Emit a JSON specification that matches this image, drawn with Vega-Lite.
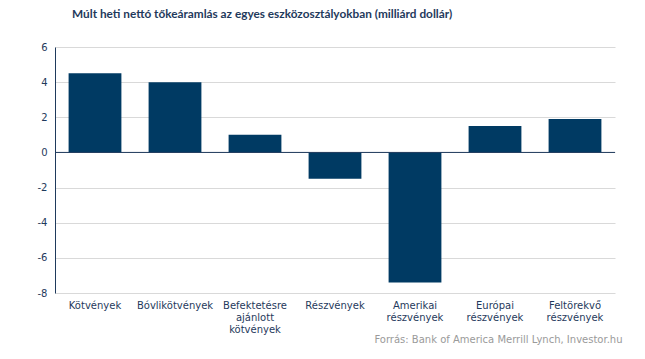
{
  "$schema": "https://vega.github.io/schema/vega-lite/v6.json",
  "width": 560,
  "height": 246,
  "autosize": {"type": "none"},
  "padding": {"left": 55, "top": 47, "right": 30, "bottom": 66},
  "background": "white",
  "title": {
    "text": "Múlt heti nettó tőkeáramlás az egyes eszközosztályokban (milliárd dollár)",
    "anchor": "start",
    "dx": 35,
    "offset": 21,
    "font": "Lato",
    "fontSize": 11.8,
    "fontWeight": "bold",
    "color": "#1F3A5C"
  },
  "data": {
    "values": [
      {"kategoria": "Kötvények", "ertek": 4.5},
      {"kategoria": "Bóvlikötvények", "ertek": 4.0},
      {"kategoria": "Befektetésre|ajánlott|kötvények", "ertek": 1.0},
      {"kategoria": "Részvények", "ertek": -1.5},
      {"kategoria": "Amerikai|részvények", "ertek": -7.4},
      {"kategoria": "Európai|részvények", "ertek": 1.5},
      {"kategoria": "Feltörekvő|részvények", "ertek": 1.9}
    ]
  },
  "encoding": {
    "y": {
      "field": "ertek",
      "type": "quantitative",
      "scale": {"domain": [-8, 6], "nice": false},
      "axis": {
        "tickCount": 7,
        "labelExpr": "datum.value < 0 ? '-' + abs(datum.value) : '' + datum.value",
        "labelOverlap": false,
        "labelFlush": false,
        "labelBound": false,
        "title": null,
        "labelFont": "DejaVu Sans",
        "labelFontSize": 10,
        "labelColor": "#1F3A5C",
        "labelPadding": 8,
        "ticks": false,
        "domainColor": "#1F3A5C",
        "domainWidth": 1,
        "gridColor": "#D9D9D9",
        "gridWidth": 1
      }
    }
  },
  "layer": [
    {
      "mark": {"type": "bar", "color": "#003A63"},
      "encoding": {
        "x": {
          "field": "kategoria",
          "type": "nominal",
          "sort": null,
          "scale": {"paddingInner": 0.34, "paddingOuter": 0.17},
          "axis": {
            "labelExpr": "split(datum.label, '|')",
            "labelAngle": 0,
            "labelFont": "DejaVu Sans",
            "labelFontSize": 10,
            "labelColor": "#1F3A5C",
            "labelLineHeight": 12,
            "labelPadding": 7,
            "domain": false,
            "ticks": false,
            "title": "Forrás: Bank of America Merrill Lynch, Investor.hu",
            "titleAnchor": "end",
            "titleX": 567,
            "titleFont": "DejaVu Sans",
            "titleFontSize": 10,
            "titleFontWeight": "normal",
            "titleColor": "#9A9A9A",
            "titlePadding": 0
          }
        }
      }
    },
    {
      "data": {"values": [{"ertek": 0}]},
      "mark": {"type": "rule", "color": "#1F3A5C", "strokeWidth": 1},
      "encoding": {}
    }
  ],
  "config": {"view": {"stroke": null}}
}
